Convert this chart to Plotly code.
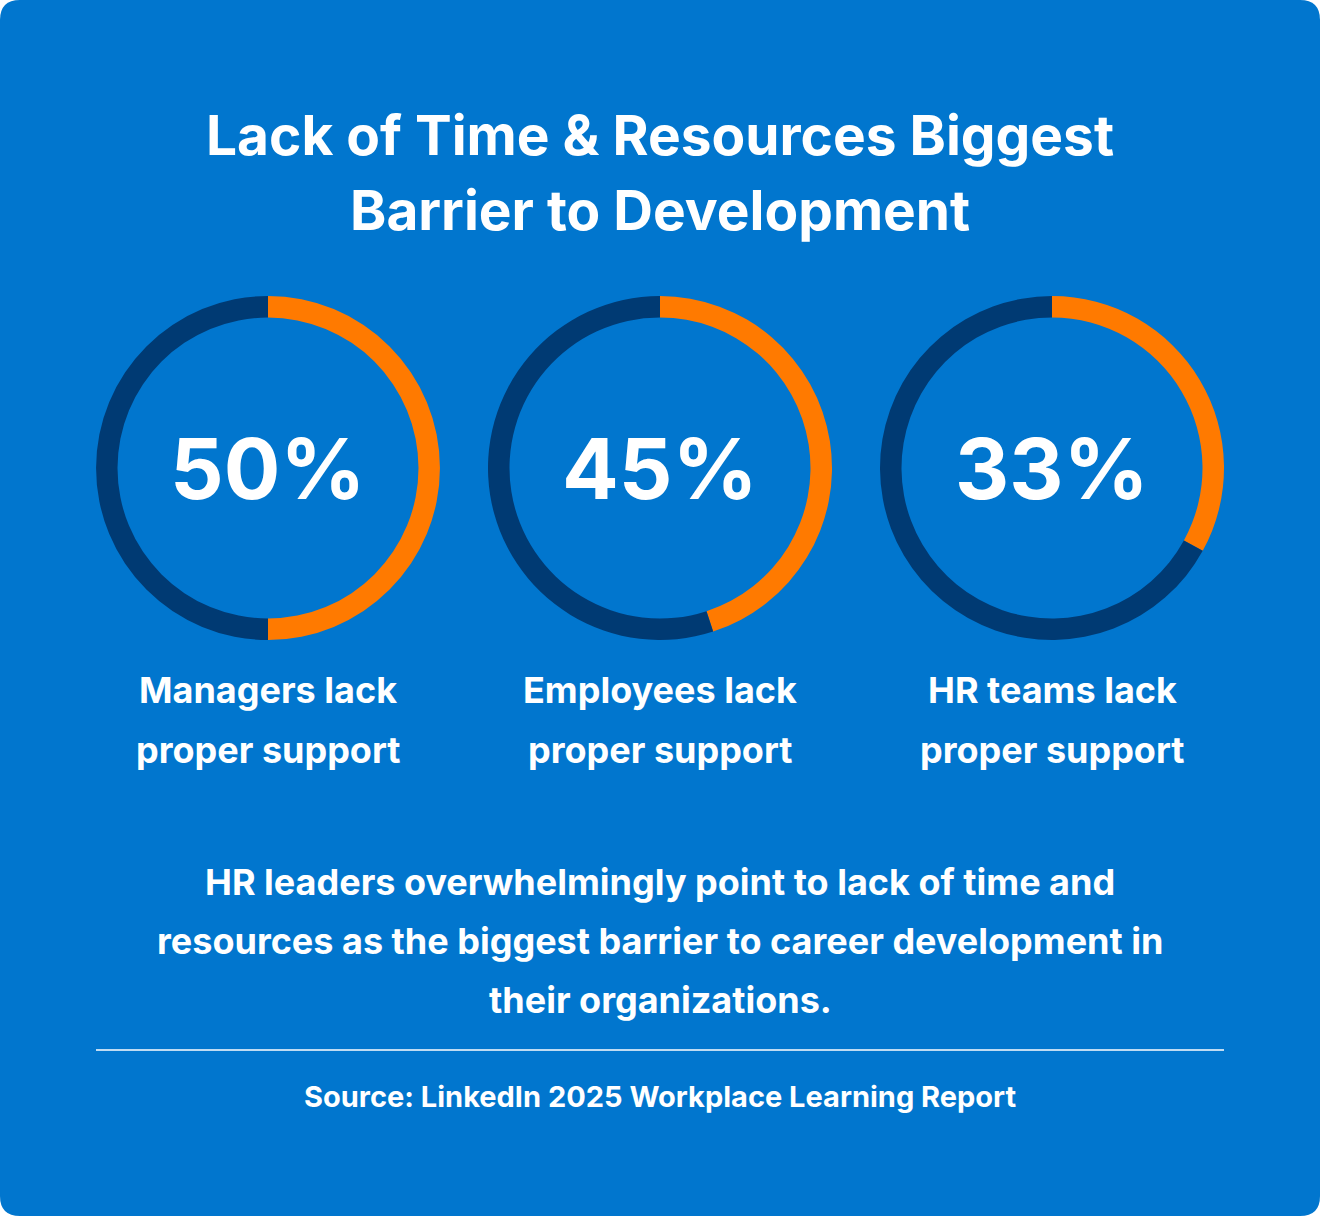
import plotly.graph_objects as go

percents = [50, 45, 33]
labels = [["Managers lack", "proper support"],
          ["Employees lack", "proper support"],
          ["HR teams lack", "proper support"]]
title = ["Lack of Time & Resources Biggest", "Barrier to Development"]
body = ["HR leaders overwhelmingly point to lack of time and",
        "resources as the biggest barrier to career development in",
        "their organizations."]
source = "Source: LinkedIn 2025 Workplace Learning Report"

W, H = 1320, 1216
BLUE = "#0176CE"
ORANGE = "#FF7A00"
NAVY = "#003A73"
FONT = "Inter"

def px(x): return x / W
def py(y): return 1 - y / H

fig = go.Figure()

def text(x, y, s, size):
    fig.add_annotation(x=px(x), y=py(y), xref="paper", yref="paper", text=f"<b>{s}</b>",
                       xanchor="center", yanchor="middle", showarrow=False,
                       font=dict(family=FONT, size=size, color="white"))

centers = [268, 660, 1052]
R = 172
for cx, p, lab in zip(centers, percents, labels):
    fig.add_trace(go.Pie(
        values=[p, 100 - p], sort=False, direction="clockwise", rotation=0,
        hole=0.875, marker=dict(colors=[ORANGE, NAVY], line=dict(width=0)),
        textinfo="none", hoverinfo="skip", showlegend=False,
        domain=dict(x=[px(cx - R), px(cx + R)], y=[py(468 + R), py(468 - R)]),
    ))
    text(cx, 468, f"{p}%", 84)
    for i, line in enumerate(lab):
        text(cx, 690 + 60 * i, line, 36)

for i, line in enumerate(title):
    text(660, 135 + 75 * i, line, 55)
for i, line in enumerate(body):
    text(660, 882 + 59 * i, line, 36)
text(660, 1096, source, 29)

r = 20
path = (f"M {px(r)},{py(0)} L {px(W-r)},{py(0)} Q {px(W)},{py(0)} {px(W)},{py(r)} "
        f"L {px(W)},{py(H-r)} Q {px(W)},{py(H)} {px(W-r)},{py(H)} "
        f"L {px(r)},{py(H)} Q {px(0)},{py(H)} {px(0)},{py(H-r)} "
        f"L {px(0)},{py(r)} Q {px(0)},{py(0)} {px(r)},{py(0)} Z")
fig.add_shape(type="path", path=path, xref="paper", yref="paper", fillcolor=BLUE,
              line=dict(width=0), layer="below")
fig.add_shape(type="line", xref="paper", yref="paper", x0=px(96), x1=px(1224), y0=py(1050), y1=py(1050),
              line=dict(color="rgba(255,255,255,0.75)", width=2))

fig.update_layout(width=W, height=H, margin=dict(l=0, r=0, t=0, b=0),
                  paper_bgcolor="white", plot_bgcolor="white")
fig.write_html("out.html", config={"displayModeBar": False},
               post_script="document.body.style.margin='0';")
